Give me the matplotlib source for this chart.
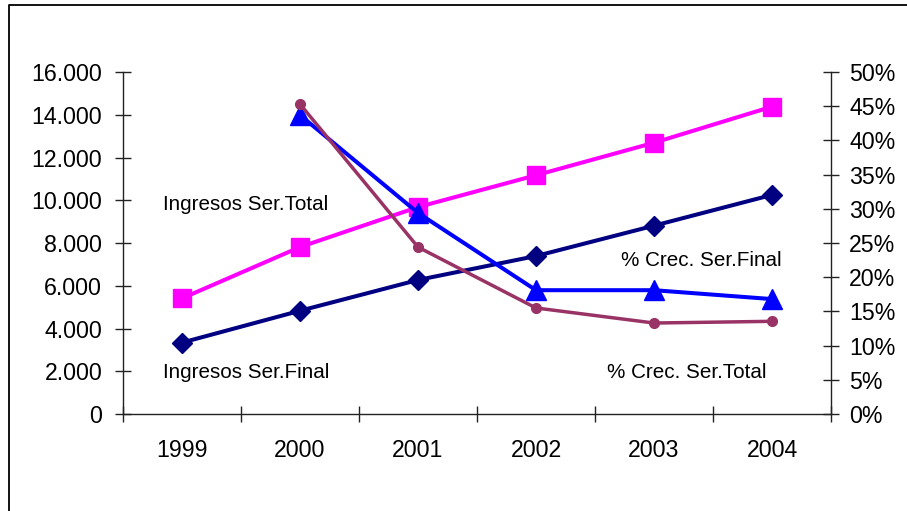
import matplotlib
matplotlib.use("Agg")
import matplotlib.pyplot as plt
from matplotlib.lines import Line2D
from matplotlib.ticker import FixedLocator, FuncFormatter

plt.rcParams['font.family'] = ['Liberation Sans', 'DejaVu Sans']

years = ["1999", "2000", "2001", "2002", "2003", "2004"]
ingresos_final = [3340, 4830, 6270, 7390, 8810, 10250]
ingresos_total = [5410, 7810, 9680, 11170, 12690, 14380]
crec_final = [None, 0.437, 0.294, 0.181, 0.181, 0.168]
crec_total = [None, 0.453, 0.244, 0.155, 0.133, 0.1355]

W, H = 907, 511
fig = plt.figure(figsize=(W / 100, H / 100), dpi=100)
fig.patch.set_facecolor("white")

# outer chart frame (left and top edges)
fig.add_artist(Line2D([9 / W, 9 / W, 1.0], [0.0, 1 - 5 / H, 1 - 5 / H],
                      transform=fig.transFigure, color="black", lw=1.3))

left, right = 123 / W, 831 / W
bottom, top = 1 - 414 / H, 1 - 72 / H
ax = fig.add_axes([left, bottom, right - left, top - bottom])
ax2 = ax.twinx()

x = list(range(len(years)))
ax.set_xlim(-0.5, len(years) - 0.5)
ax.set_ylim(0, 16000)
ax2.set_ylim(0, 0.5)

axis_col = "#222222"
for a in (ax, ax2):
    for s in a.spines.values():
        s.set_color(axis_col)
        s.set_linewidth(1.0)
    a.spines["top"].set_visible(False)
ax.spines["right"].set_visible(False)
ax2.spines["left"].set_visible(False)
ax2.spines["bottom"].set_visible(False)

# category boundaries as major ticks, labels centred as minor ticks
ax.xaxis.set_major_locator(FixedLocator([i + 0.5 for i in range(-1, len(years))]))
ax.xaxis.set_minor_locator(FixedLocator(x))
ax.set_xticklabels([], minor=False)
ax.set_xticklabels(years, minor=True)
ax.tick_params(axis="x", which="major", direction="inout", length=11, width=1, color=axis_col)
ax.tick_params(axis="x", which="minor", length=0, pad=18, labelsize=16.7)

ax.set_yticks(range(0, 16001, 2000))
ax.yaxis.set_major_formatter(FuncFormatter(lambda v, p: f"{int(v):,}".replace(",", ".")))
ax.tick_params(axis="y", direction="inout", length=11, width=1, color=axis_col, pad=9.5, labelsize=16.7)

ax2.set_yticks([i / 100 for i in range(0, 51, 5)])
ax2.yaxis.set_major_formatter(FuncFormatter(lambda v, p: f"{round(v * 100)}%"))
ax2.tick_params(axis="y", direction="inout", length=11, width=1, color=axis_col, pad=7.5, labelsize=16.7)

ax.plot(x, ingresos_final, color="#000080", lw=2.9, marker="D", markersize=10.5,
        markeredgecolor="#000080", zorder=3)
ax.plot(x, ingresos_total, color="#FF00FF", lw=2.9, marker="s", markersize=12.5,
        markeredgecolor="#FF00FF", zorder=3)

xf = [xi for xi, v in zip(x, crec_final) if v is not None]
ax2.plot(xf, [v for v in crec_final if v is not None], color="#0000FF", lw=2.9,
         marker="^", markersize=14, markeredgecolor="#0000FF", zorder=3)
ax2.plot(xf, [v for v in crec_total if v is not None], color="#993366", lw=2.5,
         marker="o", markersize=7, markeredgecolor="#993366", zorder=4)

lab_kw = dict(fontsize=14.9, color="black", va="center", ha="left")
fig.text(163 / W, 1 - 205 / H, "Ingresos Ser.Total", **lab_kw)
fig.text(163 / W, 1 - 372 / H, "Ingresos Ser.Final", **lab_kw)
fig.text(621 / W, 1 - 260 / H, "% Crec. Ser.Final", **lab_kw)
fig.text(607 / W, 1 - 372 / H, "% Crec. Ser.Total", **lab_kw)

fig.savefig("out.png", dpi=100)
